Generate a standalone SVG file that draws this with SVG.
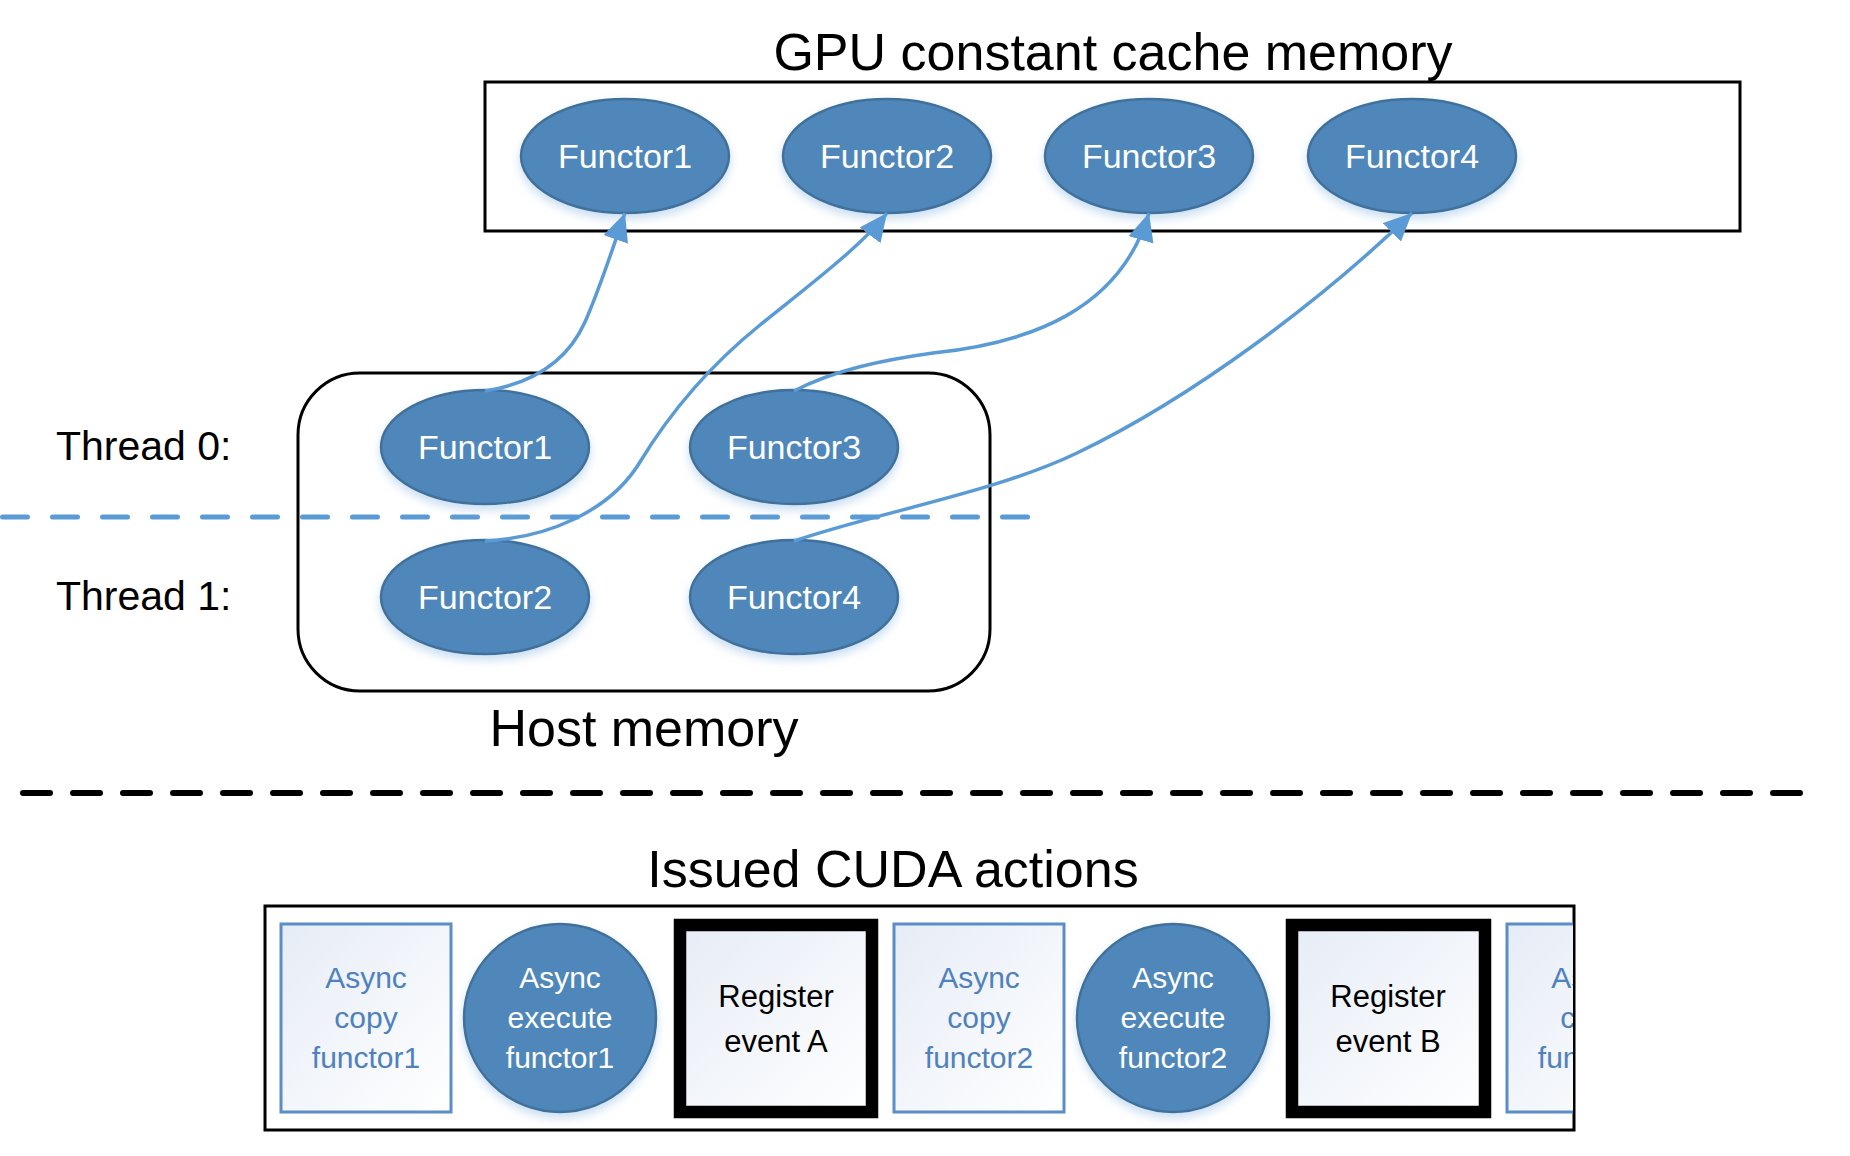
<svg xmlns="http://www.w3.org/2000/svg" width="1850" height="1156" viewBox="0 0 1850 1156">
<defs>
<style>
.t{font-family:"Liberation Sans",Arial,sans-serif;}
.title{font-size:52px;fill:#000;text-anchor:middle;}
.lbl{font-size:41px;fill:#000;}
.fn{font-size:34px;fill:#fff;text-anchor:middle;}
.ell{fill:#4F87BA;stroke:#41719C;stroke-width:2.5;filter:url(#glow);}
.conn{fill:none;stroke:#5B9BD5;stroke-width:3.5;marker-end:url(#arr);}
.lbox{fill:url(#lg);stroke:#5B8EC6;stroke-width:3;}
.ltxt{font-size:30px;fill:#4F81BD;text-anchor:middle;}
.wtxt{font-size:30px;fill:#fff;text-anchor:middle;}
.btxt{font-size:31px;fill:#000;text-anchor:middle;}
.reg{fill:url(#lg);stroke:#000;stroke-width:12.5;}
</style>
<linearGradient id="lg" x1="0" y1="0" x2="1" y2="1">
<stop offset="0" stop-color="#E6ECF6"/>
<stop offset="1" stop-color="#FFFFFF"/>
</linearGradient>
<filter id="glow" x="-20%" y="-20%" width="140%" height="150%">
<feGaussianBlur in="SourceAlpha" stdDeviation="5"/>
<feOffset dy="5" result="b"/>
<feFlood flood-color="#9DC3E6" flood-opacity="0.55"/>
<feComposite in2="b" operator="in"/>
<feMerge><feMergeNode/><feMergeNode in="SourceGraphic"/></feMerge>
</filter>
<marker id="arr" markerUnits="userSpaceOnUse" markerWidth="30" markerHeight="28" refX="28" refY="13" orient="auto">
<path d="M0,0 L28,13 L0,26 Z" fill="#5B9BD5"/>
</marker>
<clipPath id="bclip"><rect x="266" y="907" width="1307" height="222"/></clipPath>
</defs>
<rect width="1850" height="1156" fill="#fff"/>

<g id="gpu-memory">
<text class="t title" x="1113" y="70">GPU constant cache memory</text>
<rect x="485" y="82" width="1255" height="149" fill="none" stroke="#000" stroke-width="3"/>
</g>
<g id="gpu-functor1"><ellipse class="ell" cx="625" cy="156" rx="104" ry="57"/><text class="t fn" x="625" y="168">Functor1</text></g>
<g id="gpu-functor2"><ellipse class="ell" cx="887" cy="156" rx="104" ry="57"/><text class="t fn" x="887" y="168">Functor2</text></g>
<g id="gpu-functor3"><ellipse class="ell" cx="1149" cy="156" rx="104" ry="57"/><text class="t fn" x="1149" y="168">Functor3</text></g>
<g id="gpu-functor4"><ellipse class="ell" cx="1412" cy="156" rx="104" ry="57"/><text class="t fn" x="1412" y="168">Functor4</text></g>

<g id="host-memory">
<rect x="298" y="373" width="692" height="318" rx="62" ry="62" fill="none" stroke="#000" stroke-width="3"/>
<text class="t title" x="644" y="746">Host memory</text>
</g>
<g id="thread-labels">
<text class="t lbl" x="56" y="460">Thread 0:</text>
<text class="t lbl" x="56" y="610">Thread 1:</text>
</g>
<line id="thread-divider" x1="2.5" y1="517" x2="1032" y2="517" stroke="#5B9BD5" stroke-width="5" stroke-dasharray="25 25" stroke-linecap="round"/>

<g id="host-functor1"><ellipse class="ell" cx="485" cy="447" rx="104" ry="57"/><text class="t fn" x="485" y="459">Functor1</text></g>
<g id="host-functor3"><ellipse class="ell" cx="794" cy="447" rx="104" ry="57"/><text class="t fn" x="794" y="459">Functor3</text></g>
<g id="host-functor2"><ellipse class="ell" cx="485" cy="597" rx="104" ry="57"/><text class="t fn" x="485" y="609">Functor2</text></g>
<g id="host-functor4"><ellipse class="ell" cx="794" cy="597" rx="104" ry="57"/><text class="t fn" x="794" y="609">Functor4</text></g>

<g id="connectors">
<path class="conn" d="M485,391 C535,383 568,360 585,322 C600,288 612,250 625,213"/>
<path class="conn" d="M485,541 C545,538 609,513 640,462 C671,411 713,363 760,325 C803,290 862,246 887,213"/>
<path class="conn" d="M794,391 C834,370 883,360 933,353 C1030,343 1120,310 1149,213"/>
<path class="conn" d="M794,541 C879,512 996,492 1077,453 C1194,397 1323,299 1412,213"/>
</g>

<line id="section-divider" x1="23" y1="793" x2="1800" y2="793" stroke="#000" stroke-width="6" stroke-dasharray="27 23" stroke-linecap="round"/>

<g id="cuda-actions">
<text class="t title" x="893" y="887">Issued CUDA actions</text>
<rect x="265" y="906" width="1309" height="224" fill="none" stroke="#000" stroke-width="3"/>
</g>
<g clip-path="url(#bclip)">
<g id="copy-functor1">
<rect class="lbox" x="281" y="924" width="170" height="188"/>
<text class="t ltxt" x="366" y="988">Async</text><text class="t ltxt" x="366" y="1028">copy</text><text class="t ltxt" x="366" y="1068">functor1</text>
</g>
<g id="exec-functor1">
<ellipse class="ell" cx="560" cy="1018" rx="96" ry="94"/>
<text class="t wtxt" x="560" y="988">Async</text><text class="t wtxt" x="560" y="1028">execute</text><text class="t wtxt" x="560" y="1068">functor1</text>
</g>
<g id="event-a">
<rect class="reg" x="680" y="925" width="192" height="187"/>
<text class="t btxt" x="776" y="1007">Register</text><text class="t btxt" x="776" y="1052">event A</text>
</g>
<g id="copy-functor2">
<rect class="lbox" x="894" y="924" width="170" height="188"/>
<text class="t ltxt" x="979" y="988">Async</text><text class="t ltxt" x="979" y="1028">copy</text><text class="t ltxt" x="979" y="1068">functor2</text>
</g>
<g id="exec-functor2">
<ellipse class="ell" cx="1173" cy="1018" rx="96" ry="94"/>
<text class="t wtxt" x="1173" y="988">Async</text><text class="t wtxt" x="1173" y="1028">execute</text><text class="t wtxt" x="1173" y="1068">functor2</text>
</g>
<g id="event-b">
<rect class="reg" x="1292" y="925" width="193" height="187"/>
<text class="t btxt" x="1388" y="1007">Register</text><text class="t btxt" x="1388" y="1052">event B</text>
</g>
<g id="copy-functor3">
<rect class="lbox" x="1507" y="924" width="170" height="188"/>
<text class="t ltxt" x="1592" y="988">Async</text><text class="t ltxt" x="1592" y="1028">copy</text><text class="t ltxt" x="1592" y="1068">functor3</text>
</g>
</g>
</svg>
